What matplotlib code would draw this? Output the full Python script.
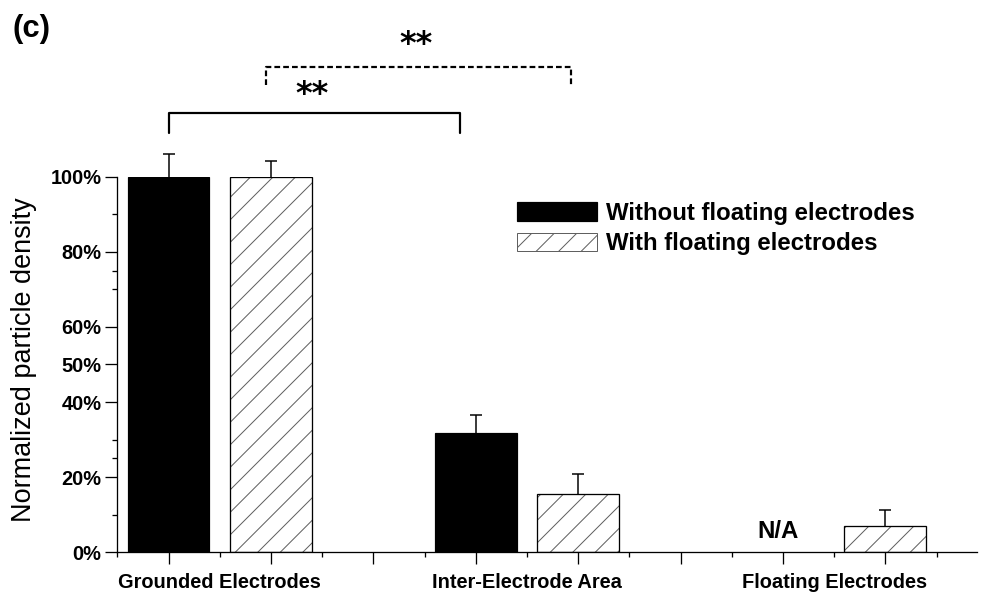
import numpy as np
import matplotlib
matplotlib.use("Agg")
import matplotlib.pyplot as plt
from matplotlib.patches import Patch

# values (percent of grounded electrodes)
categories = ["Grounded Electrodes", "Inter-Electrode Area", "Floating Electrodes"]
without_vals = [100.0, 31.7, np.nan]
without_err = [6.0, 4.9, np.nan]
with_vals = [100.0, 15.4, 7.0]
with_err = [4.3, 5.4, 4.3]
series_labels = ["Without floating electrodes", "With floating electrodes"]

ytick_major = [0, 20, 40, 50, 60, 80, 100]
ytick_minor = [10, 25, 30, 70, 75, 90]

DPI = 135


def px(v):
    # pixel size -> points at this dpi
    return v * 72 / DPI


plt.rcParams['font.family'] = ['Liberation Sans', 'DejaVu Sans']
plt.rcParams['hatch.linewidth'] = px(1.0)

fig = plt.figure(figsize=(981 / DPI, 595 / DPI), dpi=DPI)
ax = fig.add_axes([117.3 / 981, 1 - 552.3 / 595, 860.2 / 981, 375.6 / 595])

centers = np.arange(len(categories)) * 6 + 2
x_without = centers - 1
x_with = centers + 1
width = 1.6

wv = np.array(without_vals)
we = np.array(without_err)
m = np.isfinite(wv)
ax.bar(x_without[m], wv[m], width, color='black', edgecolor='black', linewidth=px(1.2), zorder=2)
ax.bar(x_with, with_vals, width, facecolor='white', edgecolor='#606060', hatch='//', linewidth=0, zorder=2)
ax.bar(x_with, with_vals, width, fill=False, edgecolor='black', linewidth=px(1.3), zorder=3)

# symmetric error bars behind the bars, so only the upper half shows
for xs, vals, errs in [(x_without[m], wv[m], we[m]), (x_with, with_vals, with_err)]:
    eb = ax.errorbar(xs, vals, yerr=errs, fmt='none', ecolor='black',
                     elinewidth=px(1.5), capsize=px(6.3), capthick=px(1.5), zorder=1)
    for art in eb.get_children():
        art.set_clip_on(False)

# N/A where there is no bar
for xpos, v in zip(x_without, without_vals):
    if not np.isfinite(v):
        ax.text(xpos - 0.1, 3.8, "N/A", ha='center', va='baseline', fontsize=px(24), fontweight='bold')

ax.set_xlim(0, 16.8)
ax.set_ylim(0, 100)
for s in ['top', 'right']:
    ax.spines[s].set_visible(False)
for s in ['left', 'bottom']:
    ax.spines[s].set_linewidth(px(1.3))

ax.set_yticks(ytick_major, labels=["%d%%" % v for v in ytick_major])
ax.set_yticks(ytick_minor, minor=True)
ax.set_xticks(np.arange(1, 17, 2), labels=[])
even = np.arange(0, 17, 2)
ax.set_xticks(even, labels=[categories[list(centers).index(e)] if e in centers else "" for e in even], minor=True)

ax.tick_params(which='major', direction='out', length=px(12), width=px(1.3))
ax.tick_params(which='minor', direction='out', length=px(5), width=px(1.3))
ax.tick_params(axis='y', which='major', labelsize=px(20), pad=px(4))
ax.tick_params(axis='x', which='minor', labelsize=px(20), pad=px(16))
for lab in ax.get_yticklabels() + ax.get_xticklabels(minor=True):
    lab.set_fontweight('bold')

ax.set_ylabel("Normalized particle density", fontsize=px(27))
ax.yaxis.set_label_coords(-0.093, 0.512)

# significance brackets
ax.plot([1, 1, 6.7, 6.7], [111.6, 117, 117, 111.6], color='black', lw=px(2.2),
        clip_on=False, solid_joinstyle='round', solid_capstyle='round')
ax.plot([2.9, 2.9, 8.86, 8.86], [124.4, 129.3, 129.3, 124.4], color='black', lw=px(2.2),
        ls=(0, (2.6, 1.4)), clip_on=False)
ax.text(3.81, 121.8, "**", ha='center', va='center', fontsize=px(32), fontweight='bold',
        family='DejaVu Sans')
ax.text(5.83, 135.1, "**", ha='center', va='center', fontsize=px(32), fontweight='bold',
        family='DejaVu Sans')

handles = [Patch(facecolor='black', edgecolor='black', linewidth=px(1.2)),
           Patch(facecolor='white', edgecolor='#606060', hatch='//', linewidth=px(1.0))]
leg = fig.legend(handles, series_labels, loc='upper left', bbox_to_anchor=(517 / 981, 1 - 202 / 595),
                 frameon=False, borderpad=0, borderaxespad=0, handlelength=3.33, handleheight=0.8,
                 handletextpad=0.38, labelspacing=0.3, prop={'size': px(24), 'weight': 'bold'})

fig.text(12 / 981, 1 - 14 / 595, "(c)", ha='left', va='top', fontsize=px(31), fontweight='bold')

fig.savefig("out.png", dpi=DPI)
